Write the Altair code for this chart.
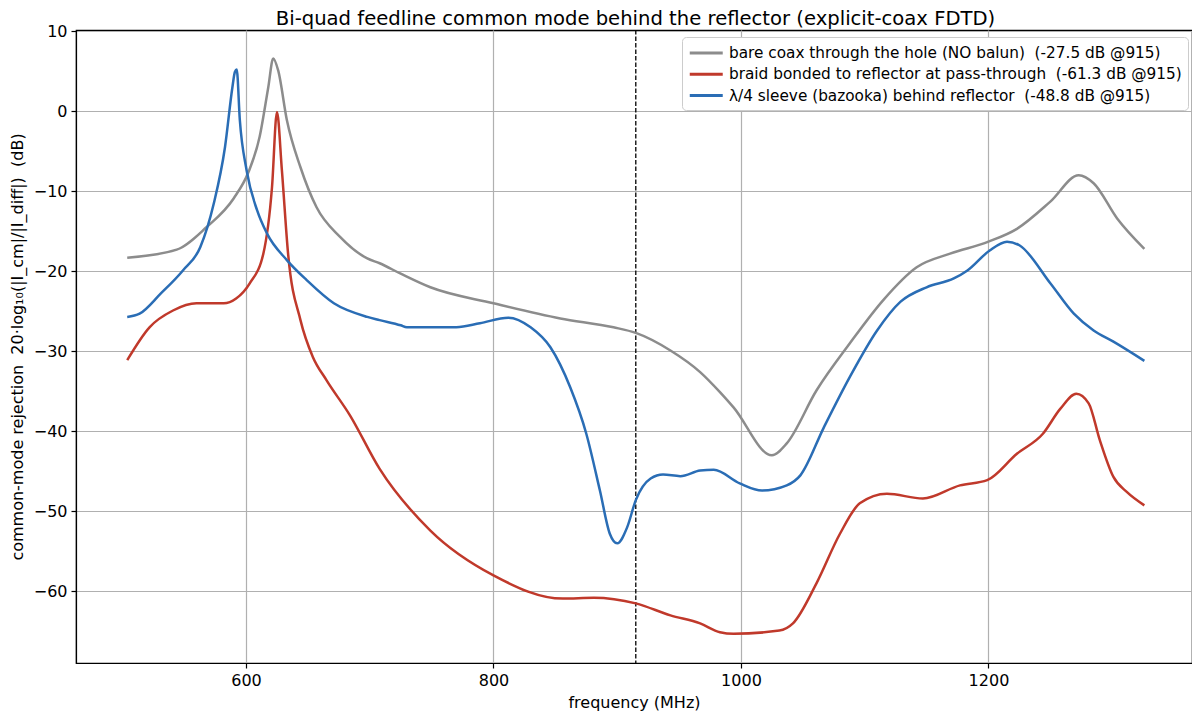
import altair as alt
import pandas as pd

# ---- data ----
bare_f = [504, 544, 568, 590, 602, 611, 618, 622, 626, 633, 644, 657, 676, 698, 708, 725, 749, 800,
          854, 897, 915, 943, 967, 983, 994, 1025, 1037, 1061, 1088, 1115, 1142, 1169, 1200, 1223,
          1250, 1273, 1285, 1304, 1326]
bare_db = [-18.3, -17.3, -14.5, -10.9, -7.6, -3.2, 3.0, 6.6, 5.1, -1.1, -7.0, -12.0, -15.7, -18.4,
           -19.0, -20.3, -22.0, -24.0, -25.9, -27.0, -27.7, -29.9, -32.6, -35.1, -37.0, -43.0, -41.5,
           -34.9, -29.0, -23.6, -19.5, -17.8, -16.3, -14.7, -11.3, -8.0, -9.0, -13.4, -17.2]

braid_f = [504, 522, 541, 560, 582, 592, 603, 614, 621, 625, 629, 634, 644, 654, 665, 684, 708, 749,
           800, 856, 881, 915, 943, 967, 983, 994, 1031, 1042, 1061, 1080, 1096, 1118, 1147, 1177,
           1199, 1223, 1244, 1258, 1271, 1281, 1290, 1301, 1312, 1326]
braid_db = [-31.1, -27.0, -24.9, -24.0, -24.0, -23.4, -21.5, -17.8, -9.5, -0.1, -7.4, -17.8, -26.1,
            -30.7, -33.6, -38.0, -44.7, -52.4, -58.0, -60.9, -60.8, -61.5, -63.0, -64.0, -65.1, -65.3,
            -64.9, -64.0, -59.0, -52.8, -49.0, -47.8, -48.4, -46.75, -46.1, -42.8, -40.3, -37.2, -35.3,
            -36.5, -41.1, -45.7, -47.6, -49.25]

sleeve_f = [504, 514, 531, 549, 563, 574, 583, 589, 591, 592.5, 595, 600.5, 609, 617, 633, 649, 671,
            698, 708, 725, 730, 770, 789, 812, 830, 846, 862, 875, 886, 894, 900, 908, 915, 927, 937,
            951, 967, 978, 999, 1017, 1037, 1048, 1067, 1088, 1110, 1129, 1150, 1172, 1183, 1201,
            1215, 1225, 1250, 1269, 1285, 1301, 1326]
sleeve_db = [-25.7, -25.3, -22.8, -19.9, -17.0, -11.5, -4.5, 3.0, 4.9, 5.2, -1.1, -7.4, -12.4, -15.3,
             -18.6, -21.1, -24.0, -25.7, -26.1, -26.75, -27.0, -27.0, -26.5, -25.8, -27.0, -29.5,
             -34.5, -40.3, -47.4, -52.8, -54.0, -52.0, -48.6, -45.9, -45.4, -45.6, -44.9, -44.8,
             -46.5, -47.4, -46.75, -45.5, -39.5, -33.2, -27.4, -23.8, -22.0, -20.9, -19.9, -17.4,
             -16.3, -16.75, -21.5, -25.3, -27.4, -28.8, -31.2]

SP2 = "\u00a0\u00a0"  # double space that SVG keeps
names = [
    "bare coax through the hole (NO balun)" + SP2 + "(-27.5 dB @915)",
    "braid bonded to reflector at pass-through" + SP2 + "(-61.3 dB @915)",
    "λ/4 sleeve (bazooka) behind reflector" + SP2 + "(-48.8 dB @915)",
]
colors = ["#8c8c8c", "#c0392b", "#2a6db5"]
marker_f = [915]
x_ticks = [600, 800, 1000, 1200]
y_ticks = [10, 0, -10, -20, -30, -40, -50, -60]
title_text = "Bi-quad feedline common mode behind the reflector (explicit-coax FDTD)"
x_title = "frequency (MHz)"
y_title = "common-mode rejection" + SP2 + "20·log₁₀(|I_cm|/|I_diff|)" + SP2 + "(dB)"

rows = []
for name, fs, ds in zip(names, [bare_f, braid_f, sleeve_f], [bare_db, braid_db, sleeve_db]):
    for i, (f, d) in enumerate(zip(fs, ds)):
        rows.append({"series": name, "f": f, "db": d, "i": i})
df = pd.DataFrame(rows)

font = "DejaVu Sans"
xscale = alt.Scale(domain=[462.6, 1364.5], nice=False, zero=False)
yscale = alt.Scale(domain=[-68.95, 10.15], nice=False, zero=False)

lines = alt.Chart(df).mark_line(strokeWidth=2.5, interpolate="monotone").encode(
    x=alt.X("f:Q", scale=xscale,
            axis=alt.Axis(values=x_ticks, title=x_title, format="d")),
    y=alt.Y("db:Q", scale=yscale,
            axis=alt.Axis(values=y_ticks, title=y_title, titleX=-51, titleBaseline="bottom")),
    color=alt.Color("series:N",
                    scale=alt.Scale(domain=names, range=colors),
                    sort=names,
                    legend=alt.Legend(title=None, orient="none", legendX=606, legendY=7,
                                      symbolType="M-1,0L3,0", symbolStrokeWidth=3, symbolSize=272,
                                      symbolFillColor="transparent",
                                      labelFontSize=15.3, labelFont=font, labelColor="#000",
                                      labelOffset=21, rowPadding=2.3, padding=6,
                                      fillColor="white", strokeColor="#cccccc", cornerRadius=4,
                                      labelLimit=700)),
    order="i:Q",
)

vline = alt.Chart(pd.DataFrame({"f": marker_f})).mark_rule(
    color="black", strokeWidth=1.3, strokeDash=[4.5, 2]
).encode(x=alt.X("f:Q", scale=xscale))

title_mark = alt.Chart(pd.DataFrame({"t": [title_text]})).mark_text(
    font=font, fontSize=19.6, color="black", align="center", baseline="alphabetic"
).encode(x=alt.value(559.5), y=alt.value(-5.5), text="t:N")

chart = alt.layer(vline, lines, title_mark).properties(
    width=1116, height=633,
    autosize=alt.AutoSizeParams(type="none"),
    padding={"left": 68, "top": 22, "right": 0, "bottom": 49},
).configure_view(
    stroke="black", strokeWidth=1.2
).configure_axis(
    labelFont=font, labelFontSize=16, labelColor="black",
    titleFont=font, titleFontSize=16, titleFontWeight="normal", titleColor="black",
    grid=True, gridColor="#b0b0b0", gridWidth=1.2,
    domainColor="black", domainWidth=1.2,
    tickColor="black", tickSize=5, tickWidth=1.2,
    labelPadding=4,
).configure_axisX(
    titlePadding=6,
)

chart.save("out.html", embed_options={"renderer": "svg", "actions": False})
